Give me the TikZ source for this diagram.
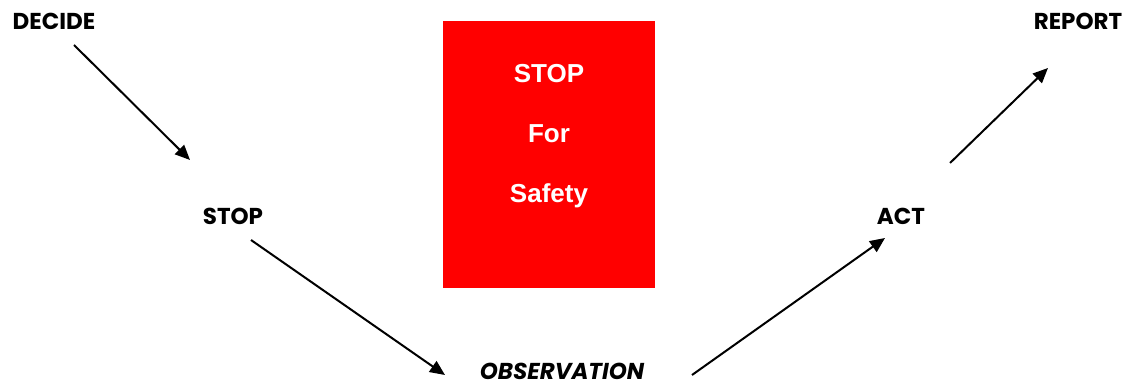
\documentclass[tikz,border=0pt]{standalone}
\usepackage{fontspec}
\setmainfont{Liberation Sans}
\newfontfamily\gothic{Poppins}
\usetikzlibrary{positioning,calc}
\usetikzlibrary{arrows.meta}
\definecolor{SignRed}{RGB}{255,0,0}
\tikzset{
  lbl/.style={inner sep=0pt,anchor=base,font=\gothic\bfseries\fontsize{23}{27}\selectfont},
  flow/.style={draw=black,line width=2pt,-{Triangle[length=15pt,width=13pt]}},
  sign/.style={fill=SignRed,draw=none,minimum width=212pt,minimum height=267pt,inner sep=0pt},
  signtxt/.style={text=white,inner sep=0pt,anchor=base,font=\bfseries\fontsize{26}{30}\selectfont},
}

\begin{document}
\begin{tikzpicture}[x=1pt,y=-1pt]
\useasboundingbox (0,0) rectangle (1126,387);
% steps
\node[lbl] (decide) at (54,29.5) {DECIDE};
\node[lbl] (stop) at (233,224.5) {STOP};
\node[lbl] (obs) at (562,379) {\itshape OBSERVATION};
\node[lbl] (act) at (901,224.5) {ACT};
\node[lbl] (report) at (1078,29.5) {REPORT};
% sign
\node[sign] (box) at (549,154.5) {};
\node[signtxt] (s1) at (549,82.5) {STOP};
\node[signtxt] (s2) at (549,143) {For};
\node[signtxt] (s3) at (549,203) {Safety};
% arrow ends
\foreach \n/\x/\y in {p0/74/45,q0/190/160,p1/251/240,q1/445/375,p2/692/375,q2/885/238,p3/950/163,q3/1048/68}
  \coordinate (\n) at (\x,\y);
\foreach \i in {0,...,3}
  \draw[flow] (p\i)--(q\i);
\end{tikzpicture}
\end{document}
